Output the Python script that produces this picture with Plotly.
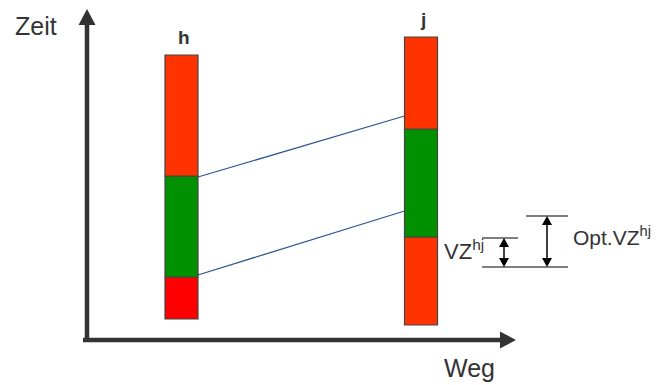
import plotly.graph_objects as go

# ---- data (units: Weg / Zeit, origin at axis corner) ----
bar_names = ["h", "j"]
bar_weg = [94.5, 334]                      # bar centre along "Weg"
bar_bounds = [[21, 63, 164, 285],          # h: bottom, green start, green end, top
              [15, 103, 211, 303]]         # j
seg_colors = [["#FF0000", "#009000", "#FF3300"],
              ["#FF3300", "#009000", "#FF3300"]]
link_start = [163, 65]                     # Zeit at bar h
link_end = [224, 129]                      # Zeit at bar j
vz_levels = [73, 102, 124]                 # bottom, VZ top, Opt.VZ top
axis_end = [429, 331]                      # arrow tips (Weg, Zeit)
labels = {"x": "Weg", "y": "Zeit", "vz": "VZ<sup>hj</sup>", "opt": "Opt.VZ<sup>hj</sup>"}

W, H = 659, 385
PAGE_OFF = 8            # default body margin of the html page
ox, oy = 87, 340        # pixel position of origin in the page
bar_w = 33
FONT = "Arial, Liberation Sans, sans-serif"
DARK = "#333333"

fig = go.Figure()
shapes = []
annotations = []

# bars
for name, xc, b, cols in zip(bar_names, bar_weg, bar_bounds, seg_colors):
    for i in range(3):
        shapes.append(dict(type="rect", x0=xc - bar_w / 2, x1=xc + bar_w / 2,
                           y0=b[i], y1=b[i + 1], fillcolor=cols[i],
                           line=dict(color="#444444", width=1.2), layer="above"))
    annotations.append(dict(x=xc + 2, y=b[-1] + 6, text=f"<b>{name}</b>", showarrow=False,
                            yanchor="bottom", borderpad=0,
                            font=dict(family=FONT, size=19, color=DARK)))

# links between bars
for s, e in zip(link_start, link_end):
    fig.add_trace(go.Scatter(x=[bar_weg[0] + bar_w / 2, bar_weg[1] - bar_w / 2], y=[s, e],
                             mode="lines", line=dict(color="#2F5A94", width=1.3),
                             hoverinfo="skip", showlegend=False))

# axes with arrows
ax_w = 4.5
shapes.append(dict(type="line", x0=-4, y0=0, x1=axis_end[0] - 14, y1=0,
                   line=dict(color=DARK, width=ax_w)))
shapes.append(dict(type="line", x0=0, y0=-2, x1=0, y1=axis_end[1] - 14,
                   line=dict(color=DARK, width=ax_w)))
tx, ty = axis_end
shapes.append(dict(type="path", path=f"M {tx} 0 L {tx-16} 8.5 L {tx-16} -8.5 Z",
                   fillcolor=DARK, line=dict(width=0)))
shapes.append(dict(type="path", path=f"M 0 {ty} L -8.5 {ty-16} L 8.5 {ty-16} Z",
                   fillcolor=DARK, line=dict(width=0)))
annotations.append(dict(x=-74, y=ty - 1, text=labels["y"], showarrow=False,
                        xanchor="left", yanchor="top", font=dict(family=FONT, size=25, color=DARK)))
annotations.append(dict(x=355, y=-12, text=labels["x"], showarrow=False,
                        xanchor="left", yanchor="top", font=dict(family=FONT, size=25, color=DARK)))

# VZ markers
b0, b1, b2 = vz_levels
gray = "#555555"
shapes.append(dict(type="line", x0=395, x1=481, y0=b0, y1=b0, line=dict(color=gray, width=1.5)))
shapes.append(dict(type="line", x0=395, x1=431, y0=b1, y1=b1, line=dict(color=gray, width=1.5)))
shapes.append(dict(type="line", x0=439, x1=481, y0=b2, y1=b2, line=dict(color=gray, width=1.5)))


def double_arrow(x, y0, y1):
    hl, hw = 9, 5
    shapes.append(dict(type="line", x0=x, x1=x, y0=y0 + hl - 1, y1=y1 - hl + 1,
                       line=dict(color="black", width=1.5)))
    shapes.append(dict(type="path", path=f"M {x} {y1} L {x-hw} {y1-hl} L {x+hw} {y1-hl} Z",
                       fillcolor="black", line=dict(width=0)))
    shapes.append(dict(type="path", path=f"M {x} {y0} L {x-hw} {y0+hl} L {x+hw} {y0+hl} Z",
                       fillcolor="black", line=dict(width=0)))


double_arrow(417, b0, b1)
double_arrow(460, b0, b2)
annotations.append(dict(x=355, y=b0 + 17, text=labels["vz"], showarrow=False,
                        xanchor="left", yanchor="middle", font=dict(family=FONT, size=22, color=DARK)))
annotations.append(dict(x=484, y=b2 - 20, text=labels["opt"], showarrow=False,
                        xanchor="left", yanchor="middle", font=dict(family=FONT, size=21, color=DARK)))

fig.update_layout(
    width=W - PAGE_OFF, height=H - PAGE_OFF, margin=dict(l=0, r=0, t=0, b=0),
    paper_bgcolor="white", plot_bgcolor="white",
    xaxis=dict(range=[PAGE_OFF - ox, W - ox], visible=False, fixedrange=True),
    yaxis=dict(range=[oy - H, oy - PAGE_OFF], visible=False, fixedrange=True),
    shapes=shapes, annotations=annotations, showlegend=False,
)
fig.write_html("out.html")
